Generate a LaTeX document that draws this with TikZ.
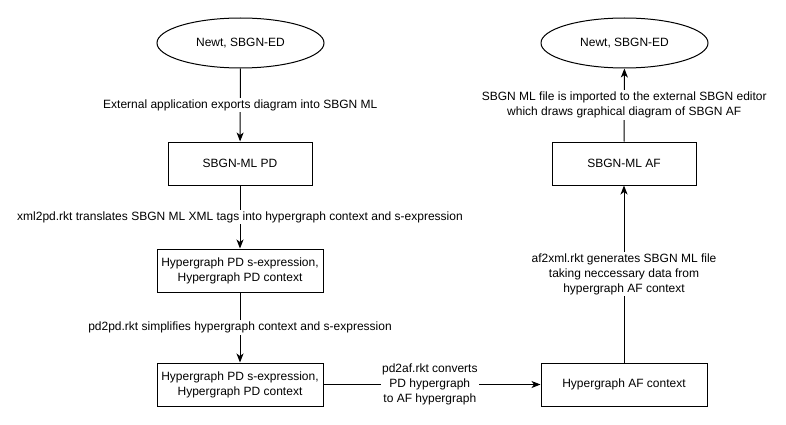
\documentclass[tikz,border=0pt]{standalone}
\usepackage{fontspec}
\setmainfont{Liberation Sans}
\usetikzlibrary{arrows.meta,shapes.geometric}
\begin{document}
\begin{tikzpicture}[x=1pt,y=-1pt,
  every node/.style={font=\fontsize{12}{15}\selectfont, align=center, inner sep=1pt},
  box/.style={draw, line width=1pt, minimum width=#1, minimum height=43pt, inner sep=0pt},
  oval/.style={draw, line width=1pt, ellipse, minimum width=167pt, minimum height=50pt, inner sep=0pt},
  conn/.style={line width=1pt, -{Stealth[length=9pt,width=7pt,inset=2.5pt]}},
  lbl/.style={fill=white, inner sep=1.5pt}]
\useasboundingbox (0,0) rectangle (786,425);
\node[oval] (e1) at (240.5,43) {Newt, SBGN-ED};
\node[box=144pt] (pd) at (240,163.5) {SBGN-ML PD};
\node[box=166pt] (h1) at (240,270.5) {Hypergraph PD s-expression,\\Hypergraph PD context};
\node[box=166pt] (h2) at (240,384.5) {Hypergraph PD s-expression,\\Hypergraph PD context};
\node[box=166pt] (haf) at (624,384.5) {Hypergraph AF context};
\node[box=144pt] (af) at (624,163.5) {SBGN-ML AF};
\node[oval] (e2) at (624.5,43) {Newt, SBGN-ED};

\draw[conn] (e1) -- (pd) node[lbl, pos=0.5] {External application exports diagram into SBGN ML};
\draw[conn] (pd) -- (h1) node[lbl, pos=0.5] {xml2pd.rkt translates SBGN ML XML tags into hypergraph context and s-expression};
\draw[conn] (h1) -- (h2) node[lbl, pos=0.5] {pd2pd.rkt simplifies hypergraph context and s-expression};
\draw[conn] (h2) -- (haf) node[lbl, pos=0.49] {pd2af.rkt converts\\PD hypergraph\\to AF hypergraph};
\draw[conn] (haf) -- (af) node[lbl, pos=0.5] {af2xml.rkt generates SBGN ML file\\taking neccessary data from\\hypergraph AF context};
\draw[conn] (af) -- (e2) node[lbl, pos=0.5] {SBGN ML file is imported to the external SBGN editor\\which draws graphical diagram of SBGN AF};
\end{tikzpicture}
\end{document}
